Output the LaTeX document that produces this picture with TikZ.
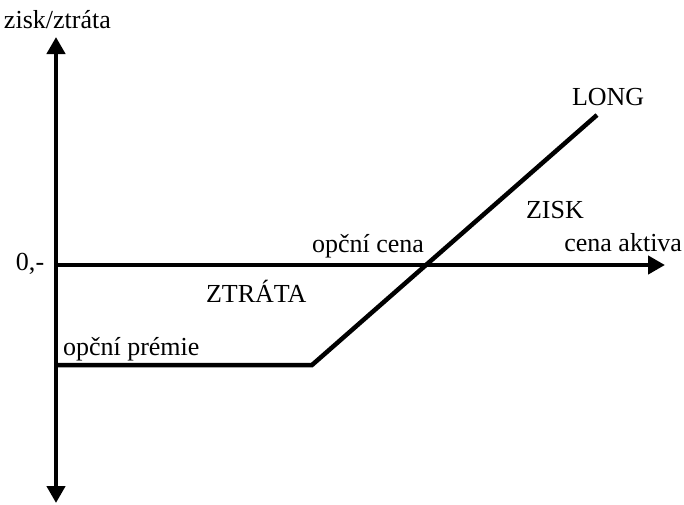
\documentclass[tikz,border=0pt]{standalone}
\usepackage{fontspec}
\setmainfont{Liberation Serif}
\usetikzlibrary{arrows.meta}
\tikzset{
  lbl/.style={font=\fontsize{26}{31}\selectfont, inner sep=0pt, outer sep=0pt},
  axis/.style={line width=4.5pt, -{Triangle[length=17pt,width=18pt]}},
  payoff/.style={line width=4.5pt, line join=miter}
}
\begin{document}
\begin{tikzpicture}[x=1pt,y=-1pt]
\useasboundingbox (0,0) rectangle (684,504);
\coordinate (o) at (56,265);
\coordinate (ytop) at (56,37);
\coordinate (ybot) at (56,503);
\coordinate (xend) at (665,265);
\coordinate (p0) at (56,365);
\coordinate (k) at (312,365);
\coordinate (pend) at (597,115);
\draw[axis] (o) -- (ytop);
\draw[axis] (o) -- (ybot);
\draw[axis] (o) -- (xend);
\draw[payoff] (p0) -- (k) -- (pend);
\node[lbl, anchor=base west] (zz) at (4,28) {zisk/ztráta};
\node[lbl, anchor=base west] (zero) at (16,270) {0,-};
\node[lbl, anchor=base west] (long) at (572,105) {LONG};
\node[lbl, anchor=base west] (zisk) at (526,218) {ZISK};
\node[lbl, anchor=base east] (oc) at (424,252) {opční cena};
\node[lbl, anchor=base east] (ca) at (682,251) {cena aktiva};
\node[lbl, anchor=base west] (ztr) at (206,302) {ZTRÁTA};
\node[lbl, anchor=base west] (op) at (63,355) {opční prémie};
\end{tikzpicture}
\end{document}
